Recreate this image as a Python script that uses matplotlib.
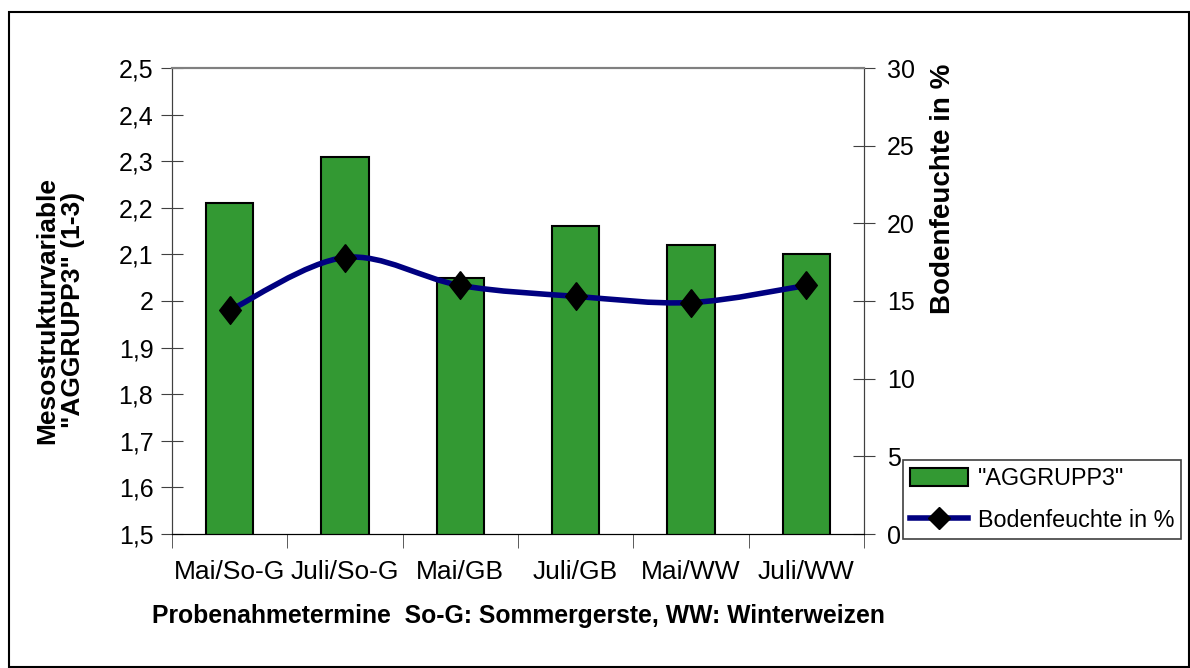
import matplotlib.pyplot as plt
from matplotlib.patches import Rectangle, Patch, PathPatch
from matplotlib.lines import Line2D
from matplotlib.path import Path
from matplotlib.ticker import FuncFormatter, FixedLocator
import numpy as np

plt.rcParams['font.family'] = ['Liberation Sans', 'DejaVu Sans']

categories = ['Mai/So-G', 'Juli/So-G', 'Mai/GB', 'Juli/GB', 'Mai/WW', 'Juli/WW']
aggrupp3 = [2.21, 2.31, 2.05, 2.16, 2.12, 2.10]
bodenfeuchte = [14.4, 17.8, 16.0, 15.3, 14.9, 16.0]

W, H = 1190, 668
fig = plt.figure(figsize=(W / 100, H / 100), dpi=100)
ax = fig.add_axes([172 / W, 1 - 534 / H, (864 - 172) / W, (534 - 68) / H])
ax2 = ax.twinx()

x = np.arange(len(categories))
ax.bar(x, aggrupp3, width=0.41, bottom=0, color='#339933', edgecolor='black',
       linewidth=1.5, zorder=2)
ax.set_ylim(1.5, 2.5)
ax.set_xlim(-0.5, len(categories) - 0.5)

# excel-like diamond, a bit taller than wide
diamond = [(0, 1), (0.78, 0), (0, -1), (-0.78, 0), (0, 1)]

# smooth line (Catmull-Rom via cubic bezier, like Excel's smoothed line)
pts = np.column_stack([x, bodenfeuchte]).astype(float)
verts = [pts[0]]
codes = [Path.MOVETO]
for i in range(len(pts) - 1):
    p0 = pts[i - 1] if i > 0 else pts[i]
    p1, p2 = pts[i], pts[i + 1]
    p3 = pts[i + 2] if i + 2 < len(pts) else pts[i + 1]
    verts += [p1 + (p2 - p0) / 6, p2 - (p3 - p1) / 6, p2]
    codes += [Path.CURVE4] * 3
ax2.add_patch(PathPatch(Path(verts, codes), facecolor='none', edgecolor='#000080',
                        linewidth=4, zorder=3))
ax2.plot(x, bodenfeuchte, linestyle='none', marker=diamond, markersize=20,
         color='black', zorder=4)
ax2.set_ylim(0, 30)

comma = FuncFormatter(lambda v, p: ('%g' % round(v, 2)).replace('.', ','))
ax.set_yticks(np.arange(1.5, 2.51, 0.1))
ax.yaxis.set_major_formatter(comma)
ax2.set_yticks(range(0, 31, 5))

ax.set_xticks(x)
ax.set_xticklabels(categories, fontsize=19)
ax.tick_params(axis='x', length=0, pad=19)
ax.xaxis.set_minor_locator(FixedLocator(np.arange(-0.5, len(categories), 1.0)))
ax.tick_params(axis='x', which='minor', length=10, direction='out', color='#404040')

ax.tick_params(axis='y', direction='inout', length=16, labelsize=18, color='#404040', pad=5.5)
ax2.tick_params(axis='y', direction='inout', length=16, labelsize=18, color='#404040', pad=8.5)

for a in (ax, ax2):
    a.spines['top'].set_color('#808080')
    a.spines['left'].set_color('#404040')
    a.spines['right'].set_color('#404040')
    a.spines['bottom'].set_color('black')
    a.spines['top'].set_linewidth(1.5)

ax.set_ylabel('Mesostrukturvariable\n"AGGRUPP3" (1-3)', fontsize=19, fontweight='bold',
              linespacing=1.1)
ax.yaxis.set_label_coords(-0.126, 0.48)
ax2.set_ylabel('Bodenfeuchte in %', fontsize=20, fontweight='bold')
ax2.yaxis.set_label_coords(1.095, 0.74)
ax.set_xlabel('Probenahmetermine  So-G: Sommergerste, WW: Winterweizen', fontsize=17.8,
              fontweight='bold', labelpad=14)

handles = [Patch(facecolor='#339933', edgecolor='black', linewidth=1.5),
           Line2D([], [], color='#000080', linewidth=4, marker='D', markersize=11,
                  markerfacecolor='black', markeredgecolor='black')]
leg = fig.legend(handles, ['"AGGRUPP3"', 'Bodenfeuchte in %'], loc='upper left',
                 bbox_to_anchor=(903 / W, 1 - 460 / H), bbox_transform=fig.transFigure,
                 borderaxespad=0, fancybox=False, framealpha=1, edgecolor='#404040',
                 fontsize=16.8, handlelength=2.5, handleheight=0.8, handletextpad=0.4,
                 labelspacing=0.8, borderpad=0.3)
leg.get_frame().set_linewidth(1.2)

fig.patches.append(Rectangle((9 / W, 1.5 / H), (1188.5 - 9) / W, (666.5 - 12) / H,
                             transform=fig.transFigure, fill=False, edgecolor='black',
                             linewidth=1.5))

fig.savefig('out.png', dpi=100)
